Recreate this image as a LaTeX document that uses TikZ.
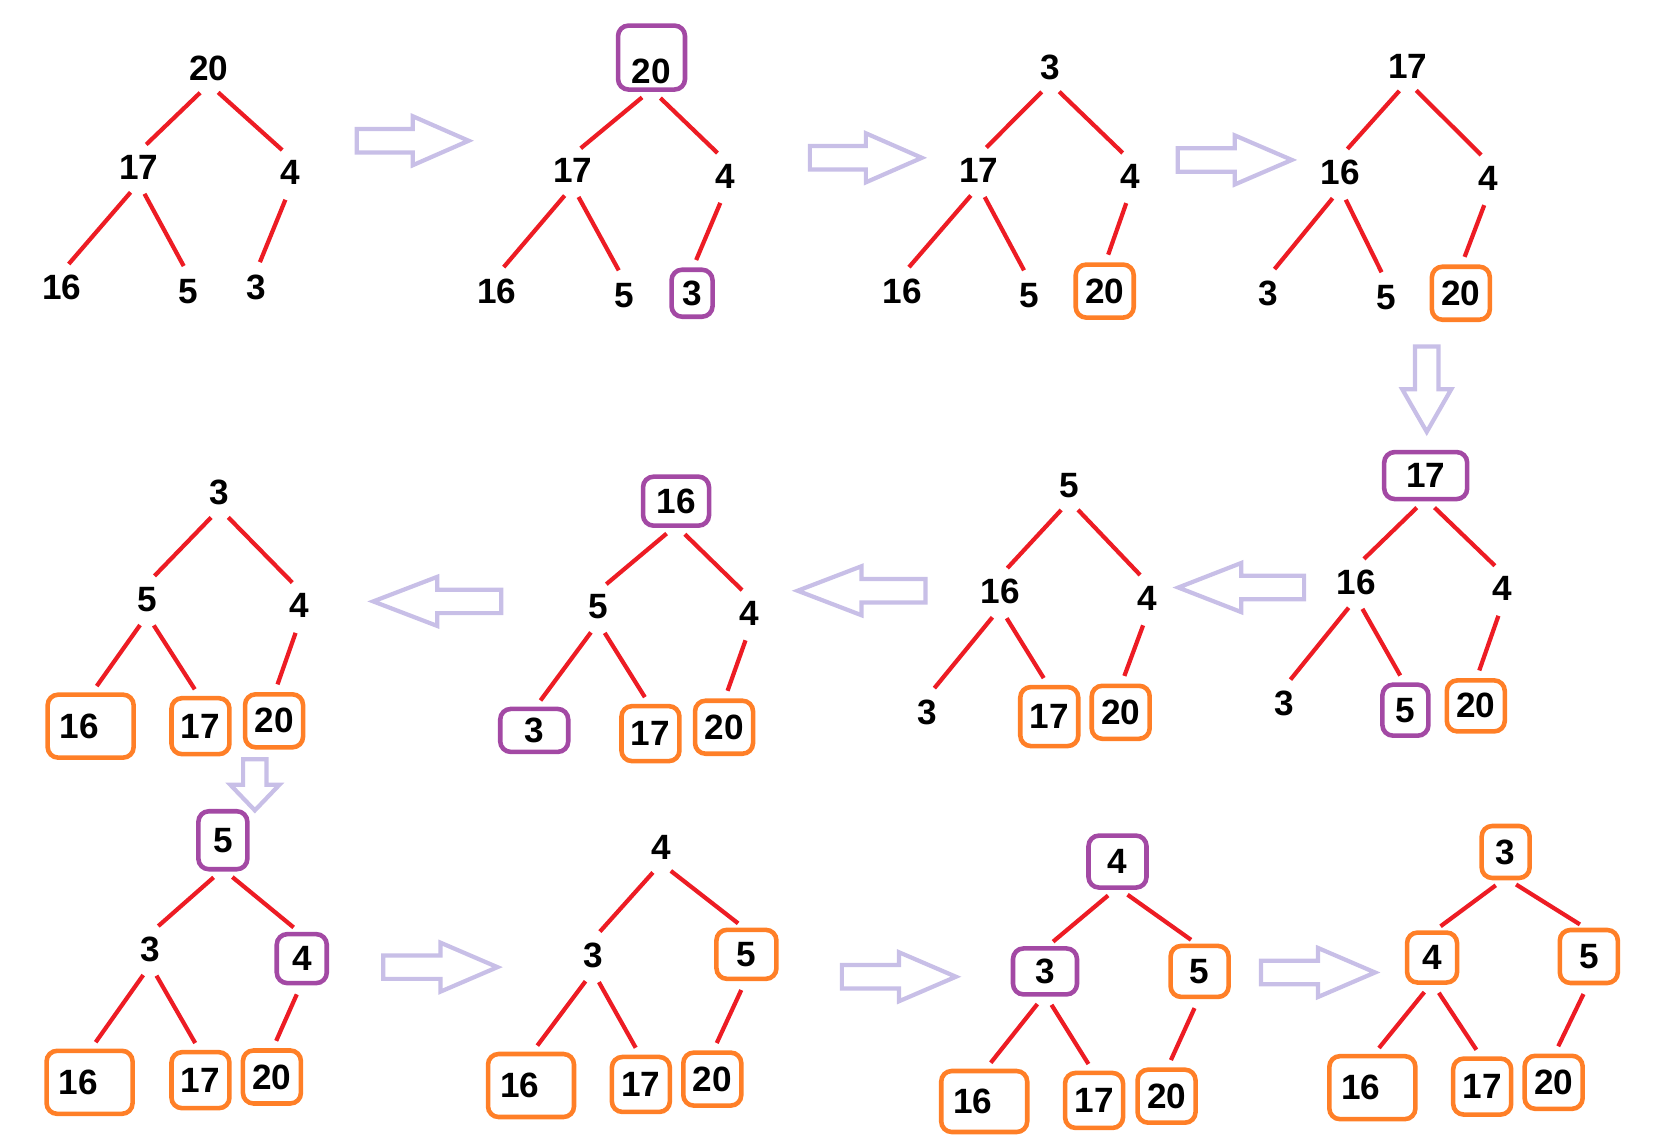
\documentclass[tikz,border=0pt]{standalone}
\usepackage{fontspec}
\setmainfont{Liberation Sans}
\definecolor{PaintRed}{RGB}{237,28,36}
\definecolor{PaintOrange}{RGB}{255,127,39}
\definecolor{PaintPurple}{RGB}{163,73,164}
\definecolor{Lavender}{RGB}{200,191,231}
\tikzset{
  num/.style={font=\fontsize{10}{12}\selectfont\bfseries,text=black,inner sep=1pt,outer sep=0pt},
  box/.style={num,line width=1.3pt,rounded corners=3pt,minimum width=.58cm,minimum height=.53cm},
  pick/.style={box,draw=PaintPurple},
  done/.style={box,draw=PaintOrange},
  doneWide/.style={done,minimum width=.86cm,minimum height=.63cm,text width=.62cm,align=left,inner xsep=.12cm},
  link/.style={draw=PaintRed,line width=1.2pt,shorten <=3.5pt,shorten >=3pt},
  pics/hop/.style={code={
    \draw[draw=Lavender,line width=1.2pt] (-#1/2,-11)--(0,-11)--(0,-23)--(#1/2,0)--(0,23)--(0,11)--(-#1/2,11)--cycle;}}
}
\begin{document}
\begin{tikzpicture}[x=0.010663cm,y=-0.010663cm]
  \useasboundingbox (0,0) rectangle (1568,1069);
  % row 1
  \node[num] (t1-1) at (196,64) {20};
  \node[num] (t1-2) at (130,157) {17};
  \node[num] (t1-3) at (272,162) {4};
  \node[num] (t1-4) at (58,270) {16};
  \node[num] (t1-5) at (177,273) {5};
  \node[num] (t1-6) at (240,270) {3};

  \node[pick,minimum width=.67cm,minimum height=.64cm,text height=.53cm] (t2-1) at (611,54) {20};
  \node[num] (t2-2) at (537,160) {17};
  \node[num] (t2-3) at (680,165) {4};
  \node[num] (t2-4) at (466,273) {16};
  \node[num] (t2-5) at (585,277) {5};
  \node[pick,minimum width=.41cm,minimum height=.47cm] (t2-6) at (649,275) {3};

  \node[num] (t3-1) at (985,63) {3};
  \node[num] (t3-2) at (918,160) {17};
  \node[num] (t3-3) at (1060,165) {4};
  \node[num] (t3-4) at (846,273) {16};
  \node[num] (t3-5) at (965,277) {5};
  \node[done] (t3-6) at (1036,273) {20};

  \node[num] (t4-1) at (1320,62) {17};
  \node[num] (t4-2) at (1257,162) {16};
  \node[num] (t4-3) at (1396,167) {4};
  \node[num] (t4-4) at (1189,275) {3};
  \node[num] (t4-5) at (1300,279) {5};
  \node[done] (t4-6) at (1370,275) {20};

  % row 2, right to left
  \node[pick,minimum width=.83cm,minimum height=.47cm] (t5-1) at (1337,446) {17};
  \node[num] (t5-2) at (1272,546) {16};
  \node[num] (t5-3) at (1409,552) {4};
  \node[num] (t5-4) at (1204,660) {3};
  \node[pick,minimum width=.46cm,minimum height=.51cm] (t5-5) at (1318,666) {5};
  \node[done,minimum height=.51cm] (t5-6) at (1384,662) {20};

  \node[num] (t6-1) at (1003,455) {5};
  \node[num] (t6-2) at (938,555) {16};
  \node[num] (t6-3) at (1076,561) {4};
  \node[num] (t6-4) at (870,668) {3};
  \node[done,minimum height=.59cm] (t6-5) at (984,672) {17};
  \node[done] (t6-6) at (1051,668) {20};

  \node[pick,minimum width=.66cm,minimum height=.49cm] (t7-1) at (634,470) {16};
  \node[num] (t7-2) at (561,569) {5};
  \node[num] (t7-3) at (703,575) {4};
  \node[pick,minimum width=.68cm,minimum height=.43cm] (t7-4) at (501,685) {3};
  \node[done,minimum height=.55cm] (t7-5) at (610,688) {17};
  \node[done] (t7-6) at (679,682) {20};

  \node[num] (t8-1) at (206,462) {3};
  \node[num] (t8-2) at (138,562) {5};
  \node[num] (t8-3) at (281,568) {4};
  \node[doneWide] (t8-4) at (85,681) {16};
  \node[done,minimum height=.56cm] (t8-5) at (188,681) {17};
  \node[done] (t8-6) at (257,676) {20};

  % row 3
  \node[pick,minimum width=.49cm,minimum height=.58cm] (t9-1) at (209,788) {5};
  \node[num] (t9-2) at (141,890) {3};
  \node[pick,minimum width=.5cm,minimum height=.49cm] (t9-3) at (283,899) {4};
  \node[doneWide] (t9-4) at (84,1015) {16};
  \node[done,minimum height=.56cm] (t9-5) at (188,1013) {17};
  \node[done] (t9-6) at (255,1010) {20};

  \node[num] (t10-1) at (620,795) {4};
  \node[num] (t10-2) at (556,896) {3};
  \node[done,minimum width=.6cm,minimum height=.49cm] (t10-3) at (700,895) {5};
  \node[doneWide] (t10-4) at (498,1018) {16};
  \node[done,minimum height=.55cm] (t10-5) at (601,1017) {17};
  \node[done] (t10-6) at (668,1012) {20};

  \node[pick,minimum height=.52cm] (t11-1) at (1048,808) {4};
  \node[pick,minimum width=.64cm,minimum height=.46cm] (t11-2) at (980,911) {3};
  \node[done,minimum height=.51cm] (t11-3) at (1125,911) {5};
  \node[doneWide,minimum height=.61cm] (t11-4) at (923,1033) {16};
  \node[done,minimum height=.55cm] (t11-5) at (1026,1032) {17};
  \node[done] (t11-6) at (1094,1028) {20};

  \node[done,minimum width=.48cm,minimum height=.52cm] (t12-1) at (1412,799) {3};
  \node[done,minimum width=.5cm,minimum height=.5cm] (t12-2) at (1343,898) {4};
  \node[done] (t12-3) at (1490,897) {5};
  \node[doneWide] (t12-4) at (1287,1020) {16};
  \node[done,minimum height=.56cm] (t12-5) at (1390,1019) {17};
  \node[done] (t12-6) at (1457,1015) {20};

  % tree edges
  \foreach \t in {1,...,12}{
    \draw[link] (t\t-1.south) -- (t\t-2.north);
    \draw[link] (t\t-1.south) -- (t\t-3.north);
    \draw[link] (t\t-2.south) -- (t\t-4.north);
    \draw[link] (t\t-2.south) -- (t\t-5.north);
    \draw[link] (t\t-3.south) -- (t\t-6.north);
  }

  % step arrows
  \pic (h1) at (387,132) {hop=105};
  \pic (h2) at (812,148) {hop=105};
  \pic (h3) at (1158,150) {hop=107};
  \pic[rotate=-90] (h4) at (1338,365) {hop=80};
  \pic[rotate=180] (h5) at (1164,551) {hop=118};
  \pic[rotate=180] (h6) at (808,554) {hop=120};
  \pic[rotate=180] (h7) at (410,564) {hop=120};
  \pic[rotate=-90] (h8) at (239,736) {hop=48};
  \pic (h9) at (413,907) {hop=107};
  \pic (h10) at (843,916) {hop=107};
  \pic (h11) at (1236,912) {hop=107};
\end{tikzpicture}
\end{document}
